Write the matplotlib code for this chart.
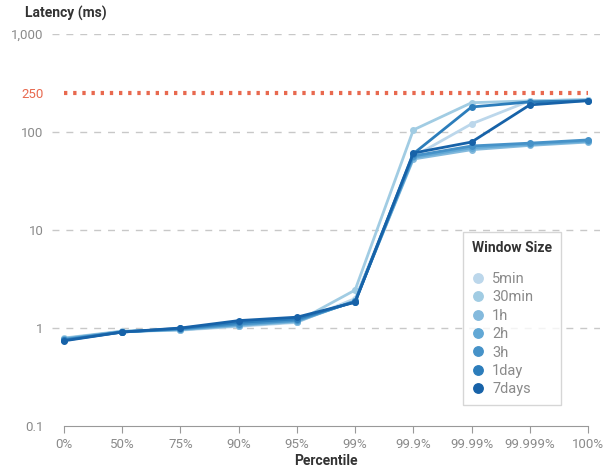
import numpy as np
import matplotlib.pyplot as plt
from matplotlib.ticker import FixedLocator, NullLocator

plt.rcParams['font.family'] = ['Roboto', 'DejaVu Sans']

percentiles = ['0%', '50%', '75%', '90%', '95%', '99%', '99.9%', '99.99%', '99.999%', '100%']
windows = ['5min', '30min', '1h', '2h', '3h', '1day', '7days']

lat_5min = [0.78, 0.92, 0.95, 1.04, 1.14, 2.0, 56, 121, 208, 214]
lat_30min = [0.79, 0.93, 0.96, 1.06, 1.16, 2.44, 105, 199, 208, 214]
lat_1h = [0.78, 0.92, 0.96, 1.06, 1.16, 1.9, 53, 66, 73, 79]
lat_2h = [0.77, 0.92, 0.97, 1.08, 1.18, 1.88, 55, 69, 75, 81]
lat_3h = [0.76, 0.91, 0.98, 1.10, 1.20, 1.87, 57, 72, 77, 83]
lat_1day = [0.75, 0.91, 0.99, 1.14, 1.24, 1.85, 60, 180, 203, 209]
lat_7days = [0.74, 0.91, 1.00, 1.19, 1.29, 1.83, 61, 79, 189, 209]

slo = 250

colors = ['#bcd7eb', '#a1cce3', '#84badd', '#62a8d5', '#4692c8', '#2c7dbb', '#1762a8']
series = [lat_5min, lat_30min, lat_1h, lat_2h, lat_3h, lat_1day, lat_7days]

fig = plt.figure(figsize=(6.11, 4.71), dpi=100)
ax = fig.add_axes([0.0851, 0.0955, 0.8969, 0.8323])

x = np.arange(len(percentiles))
for name, vals, c in zip(windows, series, colors):
    ax.plot(x, vals, color=c, lw=2.0, marker='o', ms=4, label=name, zorder=3)

# SLO threshold
ax.hlines(slo, 0, len(percentiles) - 1, colors='#e8694f', lw=3.0,
          linestyles=(0, (0.8, 1.4)), zorder=2)

ax.set_yscale('log')
ax.set_ylim(0.1, 1000)
ax.set_xlim(-0.206, 9.206)

for v in [1, 10, 100, 1000]:
    ax.axhline(v, color='#c8c8c8', lw=1.0, ls=(0, (5, 5)), zorder=1)

ax.yaxis.set_major_locator(FixedLocator([0.1, 1, 10, 100, 250, 1000]))
ax.yaxis.set_minor_locator(NullLocator())
ax.set_yticklabels(['0.1', '1', '10', '100', '250', '1,000'])
ax.tick_params(axis='y', length=0, pad=6, labelsize=9.5, labelcolor='#8a8a8a')
ax.get_yticklabels()[4].set_color('#e8694f')

ax.set_xticks(x)
ax.set_xticklabels(percentiles)
ax.tick_params(axis='x', length=5, color='#999999', labelsize=9.5, labelcolor='#8a8a8a')

for s in ['left', 'right', 'top']:
    ax.spines[s].set_visible(False)
ax.spines['bottom'].set_color('#999999')
ax.spines['bottom'].set_bounds(0, len(percentiles) - 1)

ax.set_xlabel('Percentile', fontsize=10, fontweight='bold', color='#333333')
ax.xaxis.set_label_coords(0.5, -0.072)
fig.text(0.107, 0.972, 'Latency (ms)', fontsize=10, fontweight='bold', color='#333333',
         ha='center', va='center')

leg = ax.legend(title='Window Size', loc='upper left', bbox_to_anchor=(0.75, 0.495),
                borderaxespad=0, frameon=True, fancybox=False, edgecolor='#cccccc',
                fontsize=10.5, title_fontproperties={'weight': 'bold', 'size': 10},
                handlelength=0.8, handletextpad=0.6, labelspacing=0.3,
                borderpad=0.6, markerscale=1.7)
leg._legend_box.align = 'left'
leg._legend_box.sep = 12.5
for h in leg.legend_handles:
    h.set_linestyle('None')
for t in leg.get_texts():
    t.set_color('#8a8a8a')
leg.get_title().set_color('#333333')

fig.savefig('out.png', dpi=100)
